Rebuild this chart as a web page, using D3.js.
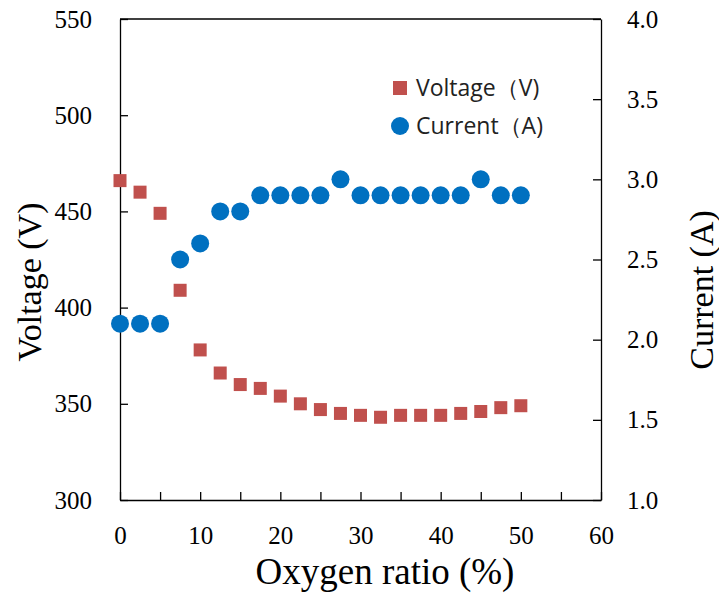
<!DOCTYPE html>
<html>
<head>
<meta charset="utf-8">
<script src="https://cdn.jsdelivr.net/npm/d3@7"></script>
<style>
  body { margin: 0; background: #fff; }
  svg { display: block; }
</style>
</head>
<body>
<svg id="chart" width="719" height="597"></svg>
<script>
// oxygen ratio (%) for each measurement
const oxygen  = [0, 2.5, 5, 7.5, 10, 12.5, 15, 17.5, 20, 22.5, 25, 27.5, 30, 32.5, 35, 37.5, 40, 42.5, 45, 47.5, 50];
const voltage = [466, 460, 449, 409, 378, 366, 360, 358, 354, 350, 347, 345, 344, 343, 344, 344, 344, 345, 346, 348, 349];
const current = [2.1, 2.1, 2.1, 2.5, 2.6, 2.8, 2.8, 2.9, 2.9, 2.9, 2.9, 3.0, 2.9, 2.9, 2.9, 2.9, 2.9, 2.9, 3.0, 2.9, 2.9];

const xTicks = d3.range(0, 61, 5);
const vTicks = [300, 350, 400, 450, 500, 550];
const aTicks = [1.0, 1.5, 2.0, 2.5, 3.0, 3.5, 4.0];
const legendNames = ["Voltage（V)", "Current（A)"];

const serif = "'Liberation Serif', 'Times New Roman', serif";
const sans  = "'Open Sans', 'Noto Sans', sans-serif";
const red  = "#C0504D";
const blue = "#0070C0";

const svg = d3.select("#chart");
const pL = 120, pR = 601, pT = 19, pB = 500;

const x  = d3.scaleLinear().domain([0, 60]).range([pL, pR]);
const yV = d3.scaleLinear().domain([300, 550]).range([pB, pT]);
const yA = d3.scaleLinear().domain([1, 4]).range([pB, pT]);

// frame top line
svg.append("line")
  .attr("x1", pL).attr("x2", pR)
  .attr("y1", pT).attr("y2", pT)
  .attr("stroke", "#000").attr("stroke-width", 1.3);

function styleAxis(g) {
  g.attr("font-family", null).attr("font-size", null);
  g.select(".domain").attr("stroke", "#000").attr("stroke-width", 1.3);
  g.selectAll(".tick line").attr("stroke", "#000").attr("stroke-width", 1.3);
  g.selectAll(".tick text")
    .style("font-family", serif)
    .style("font-size", "25px")
    .attr("fill", "#000");
}

svg.append("g")
  .attr("transform", `translate(${pL},0)`)
  .call(d3.axisLeft(yV).tickValues(vTicks).tickSizeInner(-8).tickSizeOuter(0).tickPadding(28))
  .call(styleAxis);

svg.append("g")
  .attr("transform", `translate(${pR},0)`)
  .call(d3.axisRight(yA).tickValues(aTicks).tickFormat(d3.format(".1f"))
    .tickSizeInner(-8).tickSizeOuter(0).tickPadding(26))
  .call(styleAxis);

svg.append("g")
  .attr("transform", `translate(0,${pB})`)
  .call(d3.axisBottom(x).tickValues(xTicks).tickFormat(d => d % 10 === 0 ? d : "")
    .tickSizeInner(-8).tickSizeOuter(0).tickPadding(26))
  .call(styleAxis);

// voltage squares
const sq = 13;
svg.append("g").selectAll("rect")
  .data(oxygen.map((o, i) => ({ o, v: voltage[i] })))
  .enter().append("rect")
  .attr("x", d => x(d.o) - sq / 2)
  .attr("y", d => yV(d.v) - sq / 2)
  .attr("width", sq).attr("height", sq)
  .attr("fill", red);

// current circles
svg.append("g").selectAll("circle")
  .data(oxygen.map((o, i) => ({ o, a: current[i] })))
  .enter().append("circle")
  .attr("cx", d => x(d.o))
  .attr("cy", d => yA(d.a))
  .attr("r", 9)
  .attr("fill", blue);

// axis titles
svg.append("text")
  .attr("transform", "translate(29,282) rotate(-90)")
  .attr("text-anchor", "middle")
  .attr("dominant-baseline", "central")
  .style("font-family", serif)
  .style("font-size", "34px")
  .text("Voltage (V)");

svg.append("text")
  .attr("transform", "translate(701,290) rotate(-90)")
  .attr("text-anchor", "middle")
  .attr("dominant-baseline", "central")
  .style("font-family", serif)
  .style("font-size", "34px")
  .text("Current (A)");

svg.append("text")
  .attr("x", 385).attr("y", 584)
  .attr("text-anchor", "middle")
  .style("font-family", serif)
  .style("font-size", "37px")
  .text("Oxygen ratio (%)");

// legend
const legend = svg.append("g");
legend.append("rect")
  .attr("x", 393).attr("y", 81)
  .attr("width", 14).attr("height", 14)
  .attr("fill", red);
legend.append("circle")
  .attr("cx", 400).attr("cy", 126).attr("r", 9)
  .attr("fill", blue);

legend.selectAll("text.lbl")
  .data(legendNames)
  .enter().append("text")
  .attr("class", "lbl")
  .attr("x", 416)
  .attr("y", (d, i) => 96 + i * 38)
  .style("font-family", sans).style("font-size", "23px")
  .attr("fill", "#222")
  .text(d => d);
</script>
</body>
</html>
